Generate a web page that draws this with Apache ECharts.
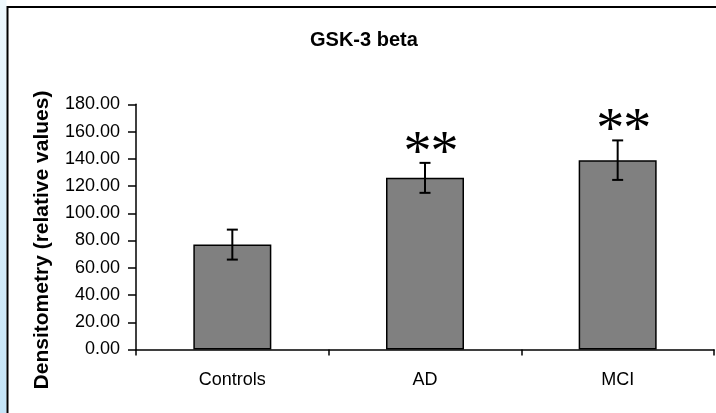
<!DOCTYPE html>
<html>
<head>
<meta charset="utf-8">
<script src="https://cdn.jsdelivr.net/npm/echarts@6/dist/echarts.min.js"></script>
<style>html,body{margin:0;padding:0;background:#fff}#c{width:716px;height:413px}</style>
</head>
<body>
<div id="c"></div>
<script>
const categories = ['Controls', 'AD', 'MCI'];
const values = [77, 126, 139];
const errors = [11, 11, 14.5];
const significance = ['', '**', '**'];
const yTicks = [0, 20, 40, 60, 80, 100, 120, 140, 160, 180];

const chart = echarts.init(document.getElementById('c'), null, {renderer: 'canvas'});
const font = '"Liberation Sans", Arial, sans-serif';

chart.setOption({
  animation: false,
  backgroundColor: '#fff',
  title: {
    text: 'GSK-3 beta',
    left: 305, top: 25,
    textStyle: {fontFamily: font, fontSize: 20, fontWeight: 'bold', color: '#000'}
  },
  grid: {left: 136, right: 2, top: 104.3, bottom: 63.5},
  xAxis: {
    type: 'category',
    data: categories,
    axisLine: {lineStyle: {color: '#000', width: 1.5}},
    axisTick: {show: true, length: 6, lineStyle: {color: '#000', width: 1.5}},
    axisLabel: {color: '#000', fontFamily: font, fontSize: 18, margin: 22}
  },
  yAxis: {
    type: 'value',
    min: yTicks[0], max: yTicks[yTicks.length - 1], interval: 20,
    splitLine: {show: false},
    axisLine: {show: true, lineStyle: {color: '#000', width: 1.5}},
    axisTick: {show: true, inside: false, length: 8, lineStyle: {color: '#000', width: 1.5}},
    axisLabel: {color: '#000', fontFamily: font, fontSize: 18, margin: 16,
      formatter: v => v.toFixed(2)}
  },
  graphic: [
    {type: 'rect', shape: {x: 0, y: 0, width: 6.5, height: 413}, z: 100,
      style: {fill: new echarts.graphic.LinearGradient(0, 0, 0, 1, [
        {offset: 0, color: '#eef8fd'}, {offset: 1, color: '#c4e4f7'}])}},
    {type: 'polyline', shape: {points: [[7.5, 413], [7.5, 7], [716, 7]]}, z: 100,
      style: {stroke: '#000', lineWidth: 2, fill: null}},
    {type: 'text', x: 42, y: 240, rotation: Math.PI / 2, z: 100,
      style: {text: 'Densitometry (relative values)', fontFamily: font, fontSize: 21,
        fontWeight: 'bold', fill: '#000', align: 'center', verticalAlign: 'middle'}}
  ],
  series: [
    {
      type: 'bar',
      data: values,
      barWidth: 78,
      itemStyle: {color: '#808080', borderColor: '#000', borderWidth: 1.5}
    },
    {
      type: 'custom',
      z: 10,
      data: values.map((v, i) => [i, v, errors[i]]),
      renderItem: function (params, api) {
        const i = api.value(0), v = api.value(1), e = api.value(2);
        const sig = significance[i];
        const top = api.coord([i, v + e]);
        const bot = api.coord([i, v - e]);
        const cap = 5.5;
        const st = {stroke: '#000', lineWidth: 2};
        const children = [
          {type: 'line', shape: {x1: top[0], y1: top[1], x2: bot[0], y2: bot[1]}, style: st},
          {type: 'line', shape: {x1: top[0] - cap, y1: top[1], x2: top[0] + cap, y2: top[1]}, style: st},
          {type: 'line', shape: {x1: bot[0] - cap, y1: bot[1], x2: bot[0] + cap, y2: bot[1]}, style: st}
        ];
        const chars = sig.split('');
        const step = 27;
        chars.forEach((ch, k) => {
          const cx = top[0] + 6 + (k - (chars.length - 1) / 2) * step;
          children.push({type: 'text', x: cx, y: top[1] - 8,
            style: {text: ch, fontFamily: '"Liberation Serif", "Times New Roman", serif',
              fontSize: 56, fill: '#000', align: 'center', verticalAlign: 'middle'}});
        });
        return {type: 'group', children: children};
      }
    }
  ]
});
</script>
</body>
</html>
